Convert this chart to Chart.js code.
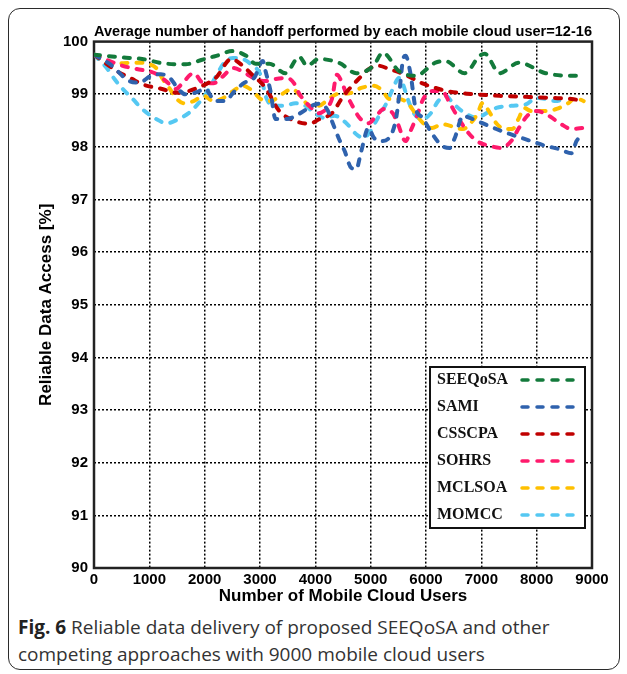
<!DOCTYPE html>
<html>
<head>
<meta charset="utf-8">
<script src="https://cdn.jsdelivr.net/npm/chart.js@4.4.1/dist/chart.umd.min.js"></script>
<style>
  html, body { margin: 0; padding: 0; background: #fff; }
  body { width: 627px; height: 674px; position: relative; overflow: hidden; }
  #frame {
    position: absolute; left: 8px; top: 8px; width: 612px; height: 662px;
    box-sizing: border-box; border: 1.5px solid #2b2b2b; border-radius: 12px;
  }
  #plot { position: absolute; left: 0; top: 0; }
  #caption {
    position: absolute; left: 18px; top: 614px; width: 600px;
    font-family: "Open Sans", "DejaVu Sans", sans-serif; font-size: 19px;
    line-height: 27px; color: #333; white-space: nowrap;
  }
  #caption b { color: #222; }
</style>
</head>
<body>
<div id="frame"></div>
<canvas id="plot" width="627" height="610"></canvas>
<div id="caption"><b>Fig. 6</b> Reliable data delivery of proposed SEEQoSA and other<br>competing approaches with 9000 mobile cloud users</div>
<script>
// Reliable data access (%) against the number of mobile cloud users
const seriesNames = ['SEEQoSA', 'SAMI', 'CSSCPA', 'SOHRS', 'MCLSOA', 'MOMCC'];
const seriesColors = ['#137a3b', '#2f62ad', '#c00000', '#ff1a6c', '#ffc000', '#55c8f2'];

const seeqosaX = [0, 500, 870, 1300, 1660, 1940, 2210, 2510, 2750, 2920, 3170, 3460, 3710, 3850, 4060, 4440, 4740, 5050, 5220, 5510, 5810, 6170, 6350, 6700, 6970, 7060, 7330, 7680, 8160, 8700, 8850];
const seeqosaY = [99.75, 99.70, 99.67, 99.58, 99.57, 99.65, 99.73, 99.82, 99.73, 99.58, 99.58, 99.40, 99.71, 99.54, 99.67, 99.59, 99.40, 99.54, 99.79, 99.44, 99.35, 99.60, 99.63, 99.40, 99.73, 99.77, 99.40, 99.60, 99.40, 99.35, 99.35];

const samiX = [0, 290, 640, 820, 1030, 1210, 1390, 1500, 1650, 1830, 2010, 2190, 2370, 2540, 2720, 2900, 3050, 3100, 3190, 3280, 3490, 3710, 4060, 4210, 4300, 4420, 4530, 4650, 4740, 4830, 4960, 5060, 5190, 5330, 5450, 5510, 5580, 5630, 5720, 5810, 5940, 6110, 6290, 6430, 6520, 6670, 6790, 7020, 7270, 7500, 7900, 8160, 8400, 8630, 8720, 8850];
const samiY = [99.75, 99.57, 99.25, 99.22, 99.35, 99.38, 99.29, 99.13, 99.00, 99.03, 99.10, 98.87, 98.87, 99.06, 99.22, 99.32, 99.63, 99.44, 99.06, 98.53, 98.53, 98.63, 98.82, 98.72, 98.49, 98.17, 97.92, 97.60, 97.58, 97.92, 98.36, 98.17, 98.11, 98.17, 98.49, 98.93, 99.63, 99.73, 99.39, 98.74, 98.55, 98.25, 98.02, 97.98, 98.17, 98.59, 98.55, 98.45, 98.34, 98.25, 98.11, 98.02, 97.96, 97.88, 98.11, 98.25];

const csscpaX = [0, 460, 640, 870, 1230, 1480, 1710, 1890, 2070, 2210, 2480, 2690, 2830, 3100, 3350, 3640, 3890, 4080, 4300, 4510, 4800, 4970, 5150, 5330, 5580, 5780, 5950, 6170, 6380, 6740, 7330, 7810, 8270, 8630, 8850];
const csscpaY = [99.75, 99.41, 99.32, 99.19, 99.10, 99.03, 99.06, 99.13, 99.22, 99.32, 99.67, 99.54, 99.40, 99.12, 98.68, 98.49, 98.44, 98.53, 98.64, 98.97, 99.31, 99.48, 99.54, 99.48, 99.39, 99.29, 99.20, 99.12, 99.06, 99.01, 98.97, 98.95, 98.93, 98.91, 98.87];

const sohrsX = [0, 520, 770, 1120, 1300, 1480, 1590, 1800, 1980, 2160, 2340, 2510, 2750, 2920, 3100, 3280, 3490, 3620, 3710, 3890, 4060, 4210, 4300, 4390, 4470, 4560, 4690, 4800, 4960, 5100, 5240, 5400, 5490, 5630, 5720, 5850, 5950, 6110, 6290, 6430, 6560, 6740, 6920, 7150, 7360, 7540, 7680, 7830, 8000, 8220, 8430, 8630, 8850];
const sohrsY = [99.75, 99.54, 99.48, 99.39, 99.25, 99.10, 99.20, 99.40, 99.21, 99.21, 99.35, 99.50, 99.39, 99.29, 99.25, 99.29, 99.31, 99.20, 99.01, 98.78, 98.64, 98.74, 98.91, 99.37, 99.25, 99.01, 98.74, 98.55, 98.45, 98.59, 98.72, 98.64, 98.44, 98.11, 98.30, 98.63, 98.91, 99.06, 99.06, 98.83, 98.59, 98.30, 98.11, 98.02, 97.98, 98.11, 98.36, 98.59, 98.68, 98.59, 98.44, 98.34, 98.36];

const mclsoaX = [0, 290, 770, 960, 1140, 1230, 1360, 1480, 1620, 1800, 1980, 2160, 2340, 2510, 2690, 2870, 3010, 3190, 3410, 3580, 3760, 3890, 4060, 4240, 4420, 4620, 4830, 5050, 5220, 5330, 5510, 5670, 5810, 5950, 6110, 6290, 6670, 6790, 6930, 7020, 7110, 7270, 7420, 7560, 7680, 7770, 7900, 8180, 8360, 8570, 8700, 8850];
const mclsoaY = [99.75, 99.58, 99.60, 99.58, 99.48, 99.31, 99.12, 98.93, 98.83, 98.87, 98.97, 98.87, 98.93, 99.06, 99.16, 99.06, 98.91, 98.87, 99.01, 99.10, 98.93, 98.78, 98.78, 98.91, 99.01, 99.02, 99.12, 99.16, 99.06, 98.91, 98.91, 98.83, 98.63, 98.45, 98.36, 98.43, 98.34, 98.43, 98.63, 98.83, 98.72, 98.45, 98.34, 98.34, 98.55, 98.74, 98.68, 98.68, 98.72, 98.83, 98.93, 98.87];

const momccX = [0, 230, 370, 520, 700, 870, 1120, 1320, 1530, 1710, 1890, 2030, 2210, 2340, 2510, 2690, 2870, 3000, 3050, 3100, 3230, 3440, 3640, 3820, 3990, 4170, 4350, 4560, 4740, 4870, 4970, 5130, 5280, 5400, 5510, 5580, 5670, 5780, 5940, 6080, 6220, 6350, 6490, 6650, 6930, 7090, 7270, 7540, 7810, 7990, 8160, 8340, 8520];
const momccY = [99.75, 99.50, 99.29, 99.10, 98.91, 98.72, 98.53, 98.45, 98.53, 98.64, 98.83, 99.02, 99.35, 99.58, 99.69, 99.67, 99.54, 99.39, 99.20, 98.97, 98.78, 98.78, 98.83, 98.78, 98.64, 98.55, 98.59, 98.45, 98.24, 98.17, 98.26, 98.55, 98.82, 99.10, 99.31, 99.20, 98.91, 98.64, 98.53, 98.63, 98.87, 98.97, 98.83, 98.68, 98.55, 98.64, 98.74, 98.78, 98.81, 98.93, 98.91, 98.87, 98.91];

const xTicks = [0, 1000, 2000, 3000, 4000, 5000, 6000, 7000, 8000, 9000];
const yTicks = [90, 91, 92, 93, 94, 95, 96, 97, 98, 99, 100];

const seriesX = [seeqosaX, samiX, csscpaX, sohrsX, mclsoaX, momccX];
const seriesY = [seeqosaY, samiY, csscpaY, sohrsY, mclsoaY, momccY];

const DASH = [6, 9];
const LINE_W = 4;

const datasets = seriesNames.map((name, i) => ({
  label: name,
  data: seriesX[i].map((x, j) => ({ x: x, y: seriesY[i][j] })),
  borderColor: seriesColors[i],
  backgroundColor: seriesColors[i],
  borderWidth: LINE_W,
  borderDash: DASH,
  borderCapStyle: 'round',
  pointRadius: 0,
  cubicInterpolationMode: 'monotone',
  fill: false
}));

const SANS = '"Liberation Sans", Arial, sans-serif';
const SERIF = '"Liberation Serif", "Times New Roman", serif';

// grid lines only inside the frame, not on its edges
const innerGrid = (lo, hi) => (ctx) => {
  const v = ctx.tick ? ctx.tick.value : null;
  return (v === lo || v === hi) ? 'rgba(0,0,0,0)' : '#000';
};

// solid frame around the plotting area
const frameBox = {
  id: 'frameBox',
  beforeDatasetsDraw(chart) {
    const { ctx, chartArea: a } = chart;
    ctx.save();
    ctx.strokeStyle = '#222';
    ctx.lineWidth = 2.5;
    ctx.strokeRect(a.left, a.top, a.right - a.left, a.bottom - a.top);
    ctx.restore();
  }
};

// boxed legend with names on the left and dashed samples on the right
const boxedLegend = {
  id: 'boxedLegend',
  afterDatasetsDraw(chart) {
    const { ctx } = chart;
    const left = 430, top = 367, w = 155, h = 161;
    ctx.save();
    ctx.fillStyle = '#fff';
    ctx.fillRect(left, top, w, h);
    ctx.strokeStyle = '#111';
    ctx.lineWidth = 2;
    ctx.strokeRect(left, top, w, h);
    ctx.font = 'bold 16px ' + SERIF;
    ctx.textBaseline = 'middle';
    ctx.textAlign = 'left';
    chart.data.datasets.forEach((ds, i) => {
      const y = top + 13 + i * 27;
      ctx.fillStyle = '#111';
      ctx.fillText(ds.label, left + 7, y);
      ctx.strokeStyle = ds.borderColor;
      ctx.lineWidth = 3.5;
      ctx.lineCap = 'round';
      ctx.setLineDash(DASH);
      ctx.beginPath();
      ctx.moveTo(left + 92, y);
      ctx.lineTo(left + 152, y);
      ctx.stroke();
      ctx.setLineDash([]);
    });
    ctx.restore();
  }
};

new Chart(document.getElementById('plot'), {
  type: 'line',
  data: { datasets: datasets },
  plugins: [frameBox, boxedLegend],
  options: {
    responsive: false,
    animation: false,
    devicePixelRatio: 1,
    layout: { padding: { left: 20, right: 35, top: 10, bottom: 0 } },
    plugins: {
      legend: { display: false },
      tooltip: { enabled: false },
      title: {
        display: true,
        fullSize: false,
        text: 'Average number of handoff performed by each mobile cloud user=12-16',
        color: '#000',
        font: { family: SANS, size: 15.5, weight: 'bold' },
        padding: { top: 12, bottom: 1 }
      }
    },
    scales: {
      x: {
        type: 'linear',
        min: xTicks[0],
        max: xTicks[xTicks.length - 1],
        afterBuildTicks: (s) => { s.ticks = xTicks.map(v => ({ value: v })); },
        afterFit: (s) => { s.height = 42; },
        ticks: {
          color: '#000', padding: 3, maxRotation: 0, autoSkip: false,
          font: { family: SANS, size: 15, weight: 'bold' },
          callback: (v) => String(v)
        },
        grid: { color: innerGrid(0, 9000), lineWidth: 1.5, drawTicks: false },
        border: { display: false, dash: [2, 2] },
        title: {
          display: true, text: 'Number of Mobile Cloud Users', color: '#000',
          font: { family: SANS, size: 17, weight: 'bold' },
          padding: { top: 0, bottom: 3 }
        }
      },
      y: {
        min: yTicks[0],
        max: yTicks[yTicks.length - 1],
        afterBuildTicks: (s) => { s.ticks = yTicks.map(v => ({ value: v })); },
        afterFit: (s) => { s.width = 74; },
        ticks: {
          color: '#000', padding: 6,
          font: { family: SANS, size: 15, weight: 'bold' },
          callback: (v) => String(v)
        },
        grid: { color: innerGrid(90, 100), lineWidth: 1.5, drawTicks: false },
        border: { display: false, dash: [2, 2] },
        title: {
          display: true, text: 'Reliable Data Access [%]', color: '#000',
          font: { family: SANS, size: 17, weight: 'bold' },
          padding: { top: 16, bottom: 0 }
        }
      }
    }
  }
});
</script>
</body>
</html>
